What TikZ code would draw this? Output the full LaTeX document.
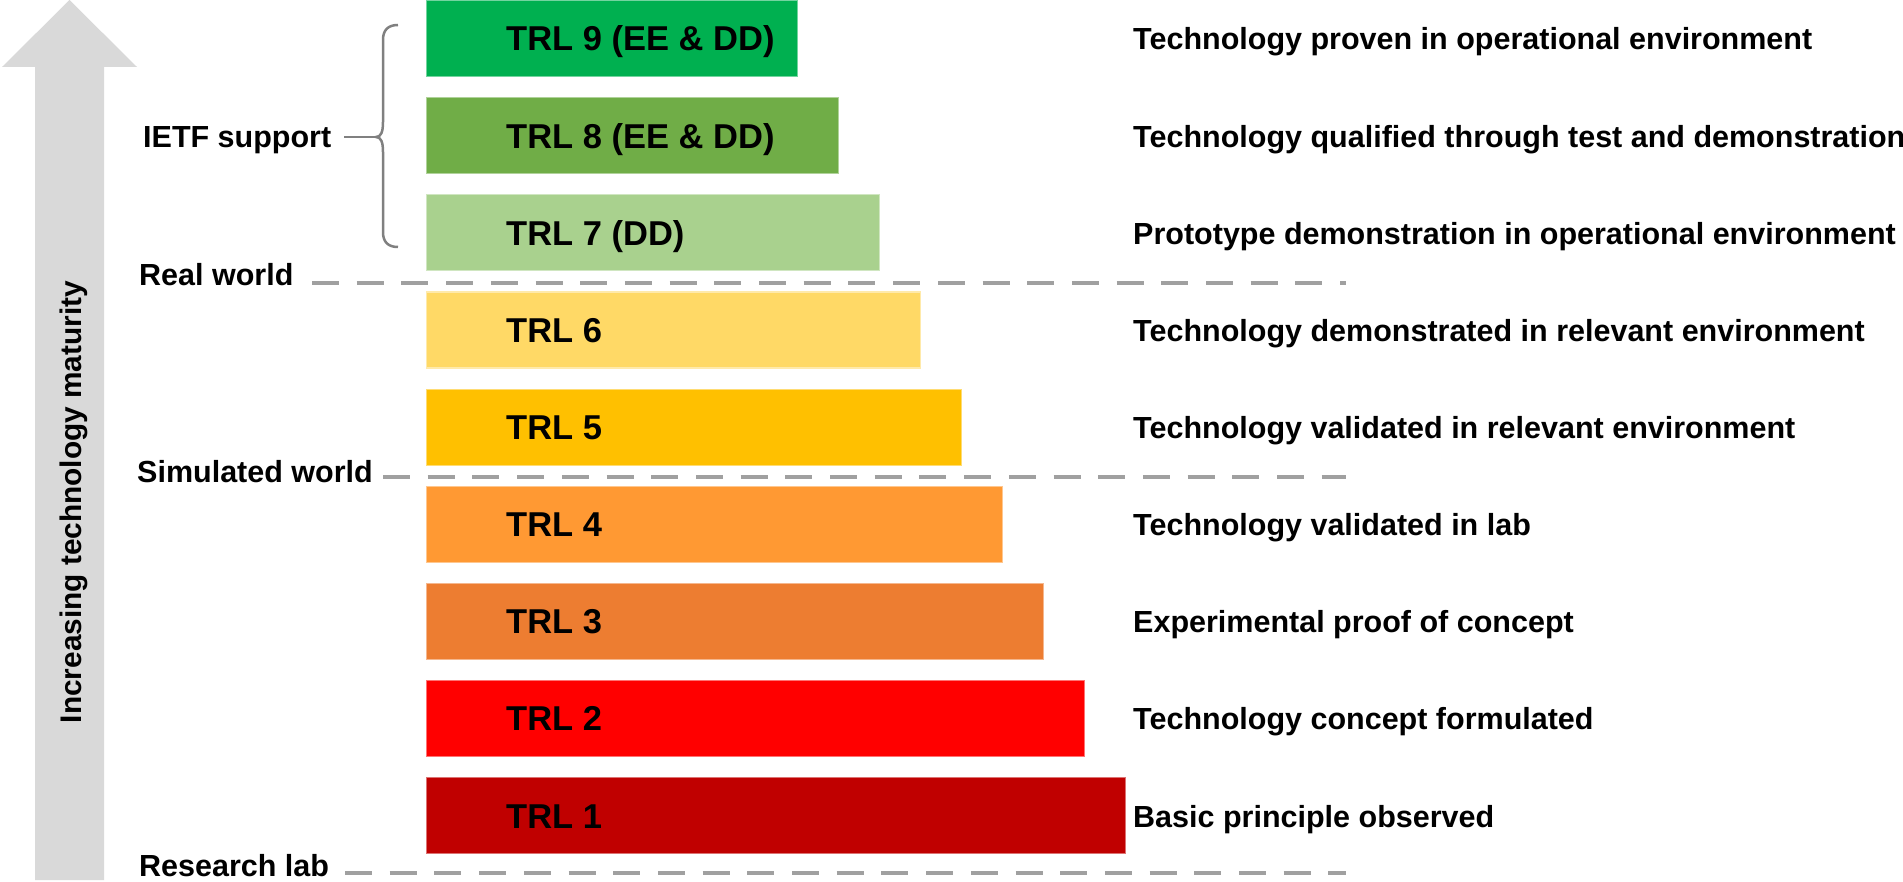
\documentclass[tikz,border=0pt]{standalone}
\usepackage{fontspec}
\setmainfont{Liberation Sans}
\definecolor{trlA}{HTML}{C00000}
\definecolor{trlB}{HTML}{FF0000}
\definecolor{trlC}{HTML}{ED7D31}
\definecolor{trlD}{HTML}{FF9933}
\definecolor{trlE}{HTML}{FFC000}
\definecolor{trlF}{HTML}{FFD966}
\definecolor{trlG}{HTML}{A9D18E}
\definecolor{trlH}{HTML}{70AD47}
\definecolor{trlI}{HTML}{00B050}
\definecolor{arrowgray}{HTML}{D9D9D9}
\definecolor{sepgray}{HTML}{A0A0A0}
\definecolor{bracegray}{HTML}{808080}
\begin{document}
\begin{tikzpicture}[x=1pt,y=-1pt,
  bar/.style={rectangle, draw=#1!55!white, line width=1.2pt, fill=#1, minimum height=76pt, inner sep=0pt, anchor=north west},
  trl/.style={font=\bfseries\fontsize{34.5}{36}\selectfont, anchor=base west, inner sep=0pt},
  desc/.style={font=\bfseries\fontsize{30.5}{32}\selectfont, anchor=base west, inner sep=0pt},
  sepline/.style={draw=sepgray, line width=4.5pt, dash pattern=on 27pt off 17.7pt},
  bracel/.style={draw=bracegray, line width=2.5pt}
]
\useasboundingbox (0,0) rectangle (1903,882);
\clip (0,0) rectangle (1903,882);
% maturity arrow
\fill[arrowgray] (35,880) -- (35,67) -- (2,67) -- (69.5,0) -- (137,67) -- (104,67) -- (104,880) -- cycle;
\node[desc, rotate=90, anchor=base, font=\bfseries\fontsize{29.8}{32}\selectfont] (mat) at (81,502) {Increasing technology maturity};
% bars
\foreach \i/\c/\t/\d in {
  1/trlA/{TRL 1}/{Basic principle observed},
  2/trlB/{TRL 2}/{Technology concept formulated},
  3/trlC/{TRL 3}/{Experimental proof of concept},
  4/trlD/{TRL 4}/{Technology validated in lab},
  5/trlE/{TRL 5}/{Technology validated in relevant environment},
  6/trlF/{TRL 6}/{Technology demonstrated in relevant environment},
  7/trlG/{TRL 7 (DD)}/{Prototype demonstration in operational environment},
  8/trlH/{TRL 8 (EE \& DD)}/{Technology qualified through test and demonstration},
  9/trlI/{TRL 9 (EE \& DD)}/{Technology proven in operational environment}} {
  \pgfmathsetmacro{\yy}{777-(\i-1)*97.125}
  \pgfmathsetmacro{\ww}{699-(\i-1)*41}
  \node[bar=\c, minimum width=\ww pt] (b\i) at (426,\yy) {};
  \node[trl] (t\i) at (506,\yy+51) {\t};
  \node[desc] (d\i) at (1133,\yy+50) {\d};
}
% left labels
\node[desc] (ietf) at (143,148) {IETF support};
\node[desc] (real) at (139,286) {Real world};
\node[desc] (sim) at (137,482) {Simulated world};
\node[desc] (lab) at (139,876) {Research lab};
% separators
\coordinate (r1) at (312,283); \coordinate (r2) at (1346,283);
\coordinate (s1) at (383,477); \coordinate (s2) at (1346,477);
\coordinate (l1) at (345,873); \coordinate (l2) at (1346,873);
\draw[sepline] (r1) -- (r2);
\draw[sepline] (s1) -- (s2);
\draw[sepline] (l1) -- (l2);
% brace
\coordinate (bt) at (376,137);
\draw[bracel] (398,25) .. controls (388,25) and (383,30) .. (383,40) -- (383,122)
  .. controls (383,132) and (381,137) .. (bt)
  .. controls (381,137) and (383,142) .. (383,152) -- (383,232)
  .. controls (383,242) and (388,247) .. (398,247);
\draw[bracel] ([xshift=13pt]ietf.east |- bt) -- (bt);
\end{tikzpicture}
\end{document}
